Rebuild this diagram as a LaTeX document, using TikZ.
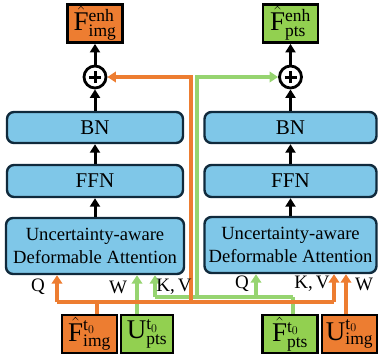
\documentclass[tikz,border=0pt]{standalone}
\usepackage{fontspec}
\setmainfont{Liberation Serif}
\usetikzlibrary{arrows.meta}

% large base letter with sizeable scripts for the feature labels
\DeclareMathSizes{27}{27}{17.5}{13}

\definecolor{blockblue}{RGB}{127,199,232}
\definecolor{blockedge}{RGB}{16,42,60}
\definecolor{imgorange}{RGB}{237,125,49}
\definecolor{ptsgreen}{RGB}{146,208,80}
\definecolor{ptsline}{RGB}{150,212,112}

\tikzset{
  x=1pt, y=-1pt,
  layerbox/.style={draw=blockedge, line width=2.4pt, fill=blockblue,
    rounded corners=7pt, align=center, font=\fontsize{21}{23}\selectfont,
    inner sep=0pt},
  featbox/.style={draw=black, line width=2.8pt, inner sep=0pt,
    minimum width=55pt, minimum height=38pt, font=\fontsize{27}{27}\selectfont},
  sumnode/.style={circle, draw=black, line width=2.8pt, minimum size=22pt,
    inner sep=0pt, fill=white,
    path picture={
      \draw[line width=3pt] ([xshift=-6pt]path picture bounding box.center) -- ([xshift=6pt]path picture bounding box.center);
      \draw[line width=3pt] ([yshift=-6pt]path picture bounding box.center) -- ([yshift=6pt]path picture bounding box.center);
    }},
  flow/.style={line width=3pt, -{Triangle[width=10pt,length=8.5pt]}},
  imgline/.style={draw=imgorange, line width=3.2pt},
  ptsline/.style={draw=ptsline, line width=3.2pt},
  tip/.style={-{Triangle[width=10.5pt,length=8.5pt]}},
  inlabel/.style={font=\fontsize{19}{20}\selectfont, inner sep=0pt},
}

\begin{document}
\begin{tikzpicture}
\useasboundingbox (0,0) rectangle (378,360);

% ---------- image branch (left) ----------
\node[featbox, fill=imgorange] (outL) at (95,23.5)
  {$\hat{\mathrm{F}}^{\mathrm{enh}}_{\mathrm{img}}$};
\node[sumnode] (plusL) at (95,77) {};
\node[layerbox, minimum width=176pt, minimum height=31pt] (bnL) at (95,127.5) {BN};
\node[layerbox, minimum width=176pt, minimum height=32pt] (ffnL) at (95,181) {FFN};
\node[layerbox, minimum width=178pt, minimum height=56pt,
      font=\fontsize{18.6}{23}\selectfont] (udaL) at (95,246)
  {Uncertainty-aware\\Deformable Attention};

% ---------- point branch (right) ----------
\node[featbox, fill=ptsgreen] (outR) at (290.5,23.5)
  {$\hat{\mathrm{F}}^{\mathrm{enh}}_{\mathrm{pts}}$};
\node[sumnode] (plusR) at (290.5,77) {};
\node[layerbox, minimum width=172pt, minimum height=31pt] (bnR) at (290.5,127.5) {BN};
\node[layerbox, minimum width=172pt, minimum height=32pt] (ffnR) at (290.5,181) {FFN};
\node[layerbox, minimum width=172pt, minimum height=56pt,
      font=\fontsize{18.6}{23}\selectfont] (udaR) at (290.5,245)
  {Uncertainty-aware\\Deformable Attention};

% ---------- inputs ----------
\node[featbox, fill=imgorange] (fimg) at (89.5,334)
  {$\hat{\mathrm{F}}^{\mathrm{t}_0}_{\mathrm{img}}$};
\node[featbox, fill=ptsgreen, minimum width=52pt] (upts) at (147,334)
  {$\mathrm{U}^{\mathrm{t}_0}_{\mathrm{pts}}$};
\node[featbox, fill=ptsgreen] (fpts) at (290,334)
  {$\hat{\mathrm{F}}^{\mathrm{t}_0}_{\mathrm{pts}}$};
\node[featbox, fill=imgorange] (uimg) at (349.5,334)
  {$\mathrm{U}^{\mathrm{t}_0}_{\mathrm{img}}$};

% ---------- vertical flow inside each branch ----------
\draw[flow] (udaL) -- (ffnL);
\draw[flow] (ffnL) -- (bnL);
\draw[flow] (bnL) -- (plusL);
\draw[flow] (plusL) -- (outL);
\draw[flow] (udaR) -- (ffnR);
\draw[flow] (ffnR) -- (bnR);
\draw[flow] (bnR) -- (plusR);
\draw[flow] (plusR) -- (outR);

% ---------- point-feature routing (green) ----------
\coordinate (gL) at (155,297);
\coordinate (gV) at (197,297);
\coordinate (gQ) at (256,297);
\coordinate (gR) at (293,297);
\draw[ptsline] (gL) -- (gR);
\draw[ptsline] ([xshift=3pt]fpts.north) -- (gR);
\draw[ptsline, tip] (gL) -- (gL |- udaL.south);
\draw[ptsline, tip] (gQ) -- (gQ |- udaR.south);
\draw[ptsline, tip] (gV) |- (plusR);
\draw[ptsline, tip] ([xshift=-10pt]upts.north) -- ([xshift=-10pt]upts.north |- udaL.south);

% ---------- image-feature routing (orange) ----------
\coordinate (oL) at (57,302);
\coordinate (oV) at (191,302);
\coordinate (oR) at (334,302);
\draw[imgline] (oL) -- (oR);
\draw[imgline] ([xshift=7.5pt]fimg.north) -- ([xshift=7.5pt]fimg.north |- oL);
\draw[imgline, tip] (oL) -- (oL |- udaL.south);
\draw[imgline, tip] (oR) -- (oR |- udaR.south);
\draw[imgline, tip] (oV) |- (plusL);
\draw[imgline, tip] ([xshift=-3.5pt]uimg.north) -- ([xshift=-3.5pt]uimg.north |- udaR.south);

% ---------- attention input labels ----------
\node[inlabel] (qL) at (38,287) {Q};
\node[inlabel] (wL) at (118,287) {W};
\node[inlabel] (kvL) at (174,287) {K,\,V};
\node[inlabel] (qR) at (242,284) {Q};
\node[inlabel] (kvR) at (312,284) {K,\,V};
\node[inlabel] (wR) at (364,284) {W};
\end{tikzpicture}
\end{document}
